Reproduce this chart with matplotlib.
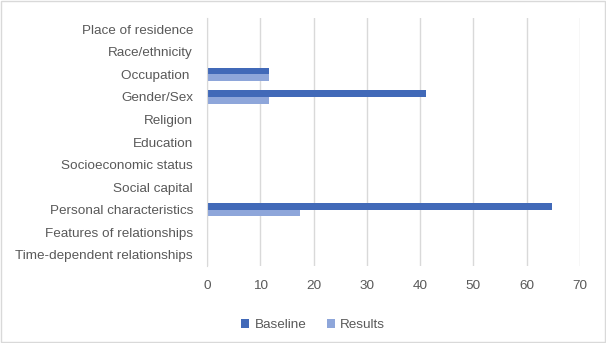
import numpy as np
import matplotlib
matplotlib.use("Agg")
import matplotlib.pyplot as plt
from matplotlib.patches import Rectangle

categories = ["Place of residence", "Race/ethnicity", "Occupation ", "Gender/Sex",
              "Religion", "Education", "Socioeconomic status", "Social capital",
              "Personal characteristics", "Features of relationships",
              "Time-dependent relationships"]
baseline = [0, 0, 11.7, 41.1, 0, 0, 0, 0, 64.7, 0, 0]
results = [0, 0, 11.7, 11.7, 0, 0, 0, 0, 17.4, 0, 0]
xticks = [0, 10, 20, 30, 40, 50, 60, 70]

plt.rcParams['font.family'] = ['Liberation Sans', 'DejaVu Sans']
text_col = "#595959"

fig = plt.figure(figsize=(6.06, 3.43), dpi=100)
ax = fig.add_axes([0.3416, 0.2245, 0.6154, 0.723])

y = np.arange(len(categories))
h = 0.3
ax.barh(y - h / 2, baseline, height=h, color="#4169B8", label="Baseline")
ax.barh(y + h / 2, results, height=h, color="#8EA6DA", label="Results")

ax.set_ylim(len(categories) - 0.5, -0.5)
ax.set_xlim(0, 70)
ax.set_xticks(xticks)
ax.set_yticks(y)
ax.set_yticklabels(categories)
ax.tick_params(axis='both', length=0, labelsize=9.7, colors=text_col)
ax.tick_params(axis='x', pad=10)
ax.tick_params(axis='y', pad=10)
ax.grid(axis='x', color="#D9D9D9", linewidth=1)
ax.set_axisbelow(True)
for s in ["top", "right", "bottom"]:
    ax.spines[s].set_visible(False)
ax.spines["left"].set_color("#D9D9D9")

ax.legend(loc="upper center", bbox_to_anchor=(0.285, -0.165), ncol=2, frameon=False,
          fontsize=9.7, labelcolor=text_col, handlelength=0.6, handleheight=0.6,
          columnspacing=1.5, handletextpad=0.4)

fig.patches.append(Rectangle((0.002, 0.003), 0.996, 0.994, transform=fig.transFigure,
                             fill=False, edgecolor="#D9D9D9", linewidth=1))

fig.savefig("out.png", dpi=100)
